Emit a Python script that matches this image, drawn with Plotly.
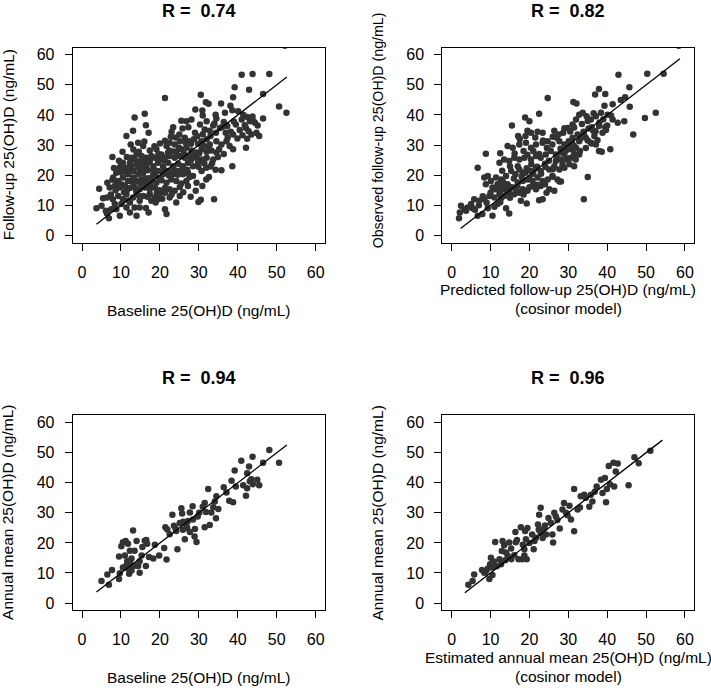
import plotly.graph_objects as go

# ---------------- data (ng/mL) ----------------
titles = ["R =  0.74", "R =  0.82", "R =  0.94", "R =  0.96"]
x_titles = [["Baseline 25(OH)D (ng/mL)"],
            ["Predicted follow-up 25(OH)D (ng/mL)", "(cosinor model)"],
            ["Baseline 25(OH)D (ng/mL)"],
            ["Estimated annual mean 25(OH)D (ng/mL)", "(cosinor model)"]]
y_titles = ["Follow-up 25(OH)D (ng/mL)", "Observed follow-up 25(OH)D (ng/mL)",
            "Annual mean 25(OH)D (ng/mL)", "Annual mean 25(OH)D (ng/mL)"]
tick_vals = [0, 10, 20, 30, 40, 50, 60]

# panel 1: baseline (x) vs follow-up (y)
baseline_followup = [
    (21.3,45.6),(30.5,46.7),(41.0,53.4),(43.8,53.6),(48.1,53.6),(39.2,49.2),(42.9,48.4),(46.5,47.0),(38.8,45.9),
    (31.8,44.2),(32.5,43.7),(35.7,43.8),(52.1,63.0),(50.6,42.8),(52.5,40.7),(38.6,23.0),(42.1,29.1),(33.9,12.0),
    (29.1,41.8),(30.9,41.5),(31.0,39.8),(34.3,40.1),(34.5,38.8),(36.7,40.7),(38.1,43.1),(38.6,41.6),(40.1,41.2),
    (41.4,40.1),(41.0,38.5),(42.4,39.3),(43.1,37.9),(43.8,39.5),(44.4,37.4),(46.5,38.8),(45.1,36.5),(45.5,33.0),
    (42.1,35.7),(39.5,36.8),(37.3,36.3),(36.4,37.7),(35.4,35.7),(34.4,34.1),(32.0,37.9),(31.5,35.2),(30.3,36.8),
    (28.1,38.5),(26.8,37.9),(25.5,38.1),(25.8,35.5),(27.3,35.9),(29.0,34.1),(23.4,35.9),(23.0,34.4),(16.4,36.6),
    (13.5,39.2),(16.1,40.4),(13.1,34.8),(17.1,34.1),(32.8,34.8),(33.7,36.5),(38.8,33.5),(39.9,32.2),(41.2,33.3),
    (42.4,32.1),(43.5,33.5),(44.8,34.1),(38.2,34.4),(36.9,34.1),
    (11.4,33.0),(7.8,26.0),(10.4,27.8),(12.5,30.2),(14.4,30.8),(15.7,29.7),(17.4,28.2),(19.1,28.6),(20.4,26.9),
    (21.7,29.7),(22.5,30.8),(23.8,30.2),(25.1,31.3),(26.4,32.4),(27.5,31.3),(28.7,31.9),(29.8,30.4),(30.7,31.3),
    (32.0,31.9),(32.8,30.2),(34.5,31.3),(35.8,30.2),(37.1,31.3),(37.9,29.7),(22.5,28.2),(24.2,27.5),(25.5,28.6),
    (26.8,29.1),(28.1,28.2),(29.4,27.5),(30.7,28.6),(32.0,27.8),(33.2,28.2),(34.5,27.5),(34.9,26.0),(33.7,25.2),
    (32.0,25.8),(30.7,25.2),(29.4,25.8),(27.7,26.4),(26.4,25.8),(25.1,26.4),(23.8,25.8),(22.5,26.4),(21.3,25.8),
    (19.9,25.2),(18.7,25.8),(17.8,26.4),(16.5,25.8),(15.3,26.4),(14.0,26.9),(12.7,25.8),(38.8,28.6),
    (8.0,19.2),(8.8,20.8),(9.7,22.5),(10.5,24.1),(9.3,18.1),(10.5,19.2),(11.8,20.3),(13.1,21.4),(14.4,22.5),
    (15.7,23.6),(16.9,24.1),(18.3,23.0),(19.5,24.1),(20.8,23.0),(22.1,24.1),(23.4,23.0),(24.7,23.8),(25.9,23.0),
    (27.2,24.1),(28.5,23.0),(29.8,24.1),(11.8,18.1),(13.1,19.2),(14.4,20.3),(15.7,20.8),(16.9,21.6),(18.3,20.3),
    (19.5,21.4),(20.8,20.3),(22.1,21.4),(23.4,20.3),(24.7,21.4),(25.9,20.3),(27.2,20.8),(28.5,19.7),(14.0,18.1),
    (15.3,18.6),(16.5,17.5),(17.8,18.3),(19.1,17.5),(20.4,18.3),(21.7,17.5),(22.9,18.6),(24.2,18.1),(25.5,17.2),
    (26.8,18.1),(7.1,15.9),(8.4,16.4),(9.7,15.9),(11.0,16.4),(12.3,15.7),(13.5,16.1),(14.8,15.3),(16.1,15.9),
    (17.4,15.3),(18.7,15.9),(19.9,15.0),(21.3,15.7),(22.5,15.3),(23.8,14.8),(25.1,16.1),(27.2,16.4),(29.2,14.8),
    (31.9,18.6),(32.6,19.4),(34.3,21.8),(35.8,21.6),(30.7,21.4),(31.9,22.5),(29.4,17.5),(30.9,16.4),(12.3,24.1),
    (13.5,25.2),(14.8,24.6),(16.1,25.2),(17.4,24.6),(11.4,22.5),(12.7,23.0),(14.0,23.6),(15.3,21.9),(16.5,22.7),
    (4.4,15.5),(3.7,9.0),(5.0,9.8),(5.4,12.3),(6.4,12.6),(6.1,8.2),(6.9,5.7),(6.4,7.3),(7.5,8.7),(8.4,10.4),
    (7.9,12.0),(9.3,13.1),(8.8,8.7),(9.7,6.5),(10.1,10.4),(10.5,12.0),(11.4,13.7),(11.4,9.3),(12.3,7.6),
    (12.3,10.9),(13.1,12.6),(13.5,9.3),(14.0,6.5),(14.8,11.5),(14.8,9.3),(15.7,13.1),(16.4,9.1),(17.4,13.7),
    (17.8,11.5),(18.7,12.6),(19.5,12.0),(19.9,13.7),(21.3,14.2),(21.7,7.1),(21.3,8.7),(22.5,12.6),(24.2,10.9),
    (25.1,13.1),(27.9,12.8),(29.9,11.1),(30.5,11.8),(18.9,10.9),(17.1,7.6),
    (9.0,17.2),(10.2,16.9),(11.5,15.0),(12.8,17.8),(13.9,14.6),(15.0,17.3),(16.2,19.0),(17.5,16.8),(18.8,19.9),
    (19.9,18.9),(21.0,21.9),(22.3,19.9),(23.5,22.0),(24.6,20.1),(25.8,22.2),(27.0,21.8),(28.0,25.0),(29.0,26.6),
    (30.1,27.3),(31.2,29.9),(32.4,29.4),(33.4,24.0),(26.2,27.2),(24.9,29.1),(23.6,27.9),(22.1,27.5),(20.9,25.0),
    (19.6,27.0),(18.4,22.0),(17.2,19.0),(15.9,23.3),(14.7,20.5),(13.4,18.6),(12.2,21.9),(11.0,21.3),(9.9,21.0),
    (8.6,15.0),(7.4,13.6),(10.8,14.3),(12.0,11.6),(14.3,13.4),(16.8,12.8),(19.2,14.2),(20.6,12.2),(23.0,13.6),
    (26.0,14.3),(27.6,19.4),(29.9,22.8),(31.4,24.0),(33.0,22.9),(35.2,28.6),(36.4,27.0),(37.4,32.4),(39.0,37.8),
    (40.5,35.0),(41.8,36.6),(44.0,38.0),(42.8,34.6),(36.0,36.0),(34.0,37.2),(33.0,33.0),(31.0,33.6),(29.6,32.9),
    (28.0,30.4),(26.6,30.8),(25.0,33.5),(24.0,32.5),(22.8,32.8),(21.3,31.4),(20.0,30.5),(18.6,29.6),(16.0,31.2),
    (14.6,27.8),(13.2,28.5),(11.5,26.0),(10.0,23.2),(9.5,24.8),(8.2,22.4),(6.5,17.5),(7.8,18.5),
]

# panel 2: predicted follow-up (x) vs observed follow-up (y)
predicted_observed = [
    (42.9,53.4),(50.3,53.7),(54.5,53.7),(45.7,49.2),(37.9,48.6),(39.5,47.0),(36.9,46.8),(24.7,45.6),(31.3,44.3),
    (32.1,43.8),(39.3,43.1),(41.4,43.6),(43.5,45.0),(44.6,45.9),(45.8,42.7),(49.7,39.0),(52.5,40.7),(46.7,33.5),
    (40.8,28.6),(35.0,19.4),(34.0,12.0),(58.4,63.0),
    (18.9,39.2),(20.0,37.9),(15.5,36.5),(22.5,40.4),(17.1,33.0),(19.5,34.8),(20.4,34.1),(22.1,34.4),(23.4,34.1),
    (26.4,34.8),(27.0,32.4),(8.8,27.1),(12.5,27.3),(14.4,29.7),(15.7,29.1),(17.4,30.2),(19.1,30.8),(20.4,29.1),
    (21.7,30.2),(23.4,30.8),(24.7,31.3),(25.9,30.2),(27.7,31.3),(29.0,30.2),(28.7,34.1),(29.8,35.7),(31.1,36.8),
    (32.0,38.5),(32.8,40.1),(33.7,40.7),(34.7,39.6),(35.8,38.5),(37.1,39.6),(38.4,40.7),(40.1,40.1),(41.4,38.5),
    (42.7,37.4),(44.4,37.9),(39.5,35.9),(37.9,36.3),(36.4,34.8),(35.2,35.5),(33.9,34.4),(32.4,33.5),(31.1,32.4),
    (30.1,31.3),(34.5,32.4),(35.8,30.8),(37.1,30.2),(37.9,28.0),(38.6,27.8),(36.7,33.0),(38.8,34.1),(39.7,35.0),
    (32.8,31.3),(31.5,29.7),(30.7,28.6),(29.4,28.2),(28.1,27.5),(26.8,26.9),(25.5,28.0),(24.2,26.9),(22.9,25.8),
    (21.7,26.4),(20.4,25.2),(18.7,25.8),(17.4,25.2),(16.1,25.8),(14.8,24.7),(13.5,25.2),(12.3,24.1),(26.8,24.7),
    (28.1,25.2),(29.4,25.2),(30.7,25.8),(31.9,25.2),(32.8,26.9),(31.5,23.0),(30.3,23.6),(29.0,22.5),(27.7,21.9),
    (26.4,23.0),(25.1,21.9),(24.1,22.7),(22.9,21.4),(21.7,22.3),(20.4,21.4),(19.3,22.3),(18.3,20.8),(17.4,21.9),
    (16.4,20.3),(15.3,21.4),(14.0,19.7),(12.7,18.6),(11.4,19.2),(10.1,18.1),(9.3,19.7),(8.4,19.2),(6.7,22.5),
    (8.8,17.0),(10.5,15.9),(11.8,17.0),(13.1,15.9),(14.4,17.0),(15.7,15.9),(16.9,16.4),(18.3,18.1),(19.5,18.6),
    (20.8,18.1),(22.1,19.2),(23.4,18.1),(24.7,18.6),(25.9,19.7),(27.2,18.6),(28.1,17.9),(25.1,15.3),(22.9,16.4),
    (21.7,15.3),(20.8,16.4),(19.5,14.8),(18.3,15.3),(17.4,14.2),(16.1,13.7),(14.8,14.2),(13.5,13.1),(12.3,13.7),
    (11.0,12.6),(9.7,13.1),(8.4,12.0),(7.1,11.5),(5.8,12.0),(5.0,10.4),(4.1,9.3),(3.3,8.7),(2.4,9.8),(2.1,7.6),
    (1.9,5.7),(3.7,8.2),(5.4,9.0),(6.7,6.5),(7.9,7.1),(9.3,9.0),(10.5,6.5),(11.8,10.4),(12.7,12.3),(14.0,9.0),
    (14.8,7.3),(16.7,14.8),(17.8,11.5),(19.3,10.6),(22.5,11.7),(23.4,12.0),(24.4,14.2),(26.4,14.8),(27.7,17.9),
    (12.4,14.6),
    (10.0,14.2),(11.2,15.3),(12.0,16.5),(13.2,17.8),(14.0,15.0),(15.2,16.0),(16.0,18.9),(17.0,17.6),(18.0,19.6),
    (19.0,20.8),(20.0,19.0),(21.0,20.5),(22.0,22.8),(23.0,20.5),(24.0,23.8),(25.0,24.8),(26.0,22.0),(27.0,26.0),
    (28.0,28.8),(29.0,27.0),(30.0,29.5),(31.0,30.6),(32.0,29.0),(33.0,32.0),(34.0,33.6),(35.0,31.5),(36.0,35.9),
    (37.0,34.6),(38.0,37.5),(39.0,38.6),(40.0,36.5),(41.0,39.8),(22.5,27.0),(21.0,28.0),(20.5,23.6),(19.5,26.8),
    (18.5,28.0),(17.0,23.0),(16.2,27.2),(23.5,31.5),(24.5,29.0),(26.0,32.8),(27.5,33.5),(29.0,35.6),(30.5,34.5),
    (31.5,35.8),(33.5,37.0),(35.0,38.0),(36.5,40.6),(28.5,23.5),(30.0,25.5),(31.5,27.0),(33.0,28.0),(34.5,29.0),
    (36.0,30.5),(37.5,31.6),(26.0,19.5),(24.0,17.0),(22.0,16.8),(20.0,16.0),(18.5,13.6),(15.0,12.5),(12.5,11.0),
    (9.0,10.8),(8.0,13.0),(7.0,10.0),(6.0,8.5),(11.0,9.5),(13.0,21.5),(15.0,23.0),(17.5,32.0),(19.0,33.0),
    (21.5,32.5),
]

# panel 3: baseline (x) vs annual mean (y)
baseline_annual = [
    (5.0,7.3),(6.5,9.5),(6.9,6.1),(7.7,11.0),(9.5,8.0),(9.7,9.9),(10.5,11.8),(10.1,18.9),(10.5,20.2),(9.5,15.5),
    (11.2,20.6),(11.8,19.7),(12.3,17.4),(11.6,13.9),(12.1,9.7),(12.7,10.8),(13.1,24.1),(13.5,17.4),(13.8,12.5),
    (14.0,20.6),(14.4,12.3),(14.8,13.9),(14.8,10.1),(15.3,15.8),(15.5,18.6),(16.1,20.7),(16.4,12.3),(16.5,21.0),
    (16.7,19.7),(17.2,15.3),(18.3,14.8),(18.7,19.4),(19.8,15.8),(21.1,18.3),(21.7,14.5),(11.4,12.5),(11.8,11.5),
    (12.7,14.8),(11.0,15.8),(12.3,13.7),(13.1,12.3),
    (21.4,25.2),(21.9,24.5),(23.2,29.4),(22.5,22.9),(23.6,25.7),(24.2,24.0),(24.5,17.9),(25.1,26.6),(25.5,31.5),
    (25.7,29.8),(25.9,24.4),(26.4,21.2),(26.8,25.7),(27.2,27.3),(27.7,30.1),(27.7,23.6),(28.4,32.2),(28.5,27.8),
    (28.9,22.1),(29.4,20.3),(29.7,28.8),(30.1,30.0),(31.5,33.3),(31.5,25.2),(31.8,30.3),(32.4,37.9),(32.8,26.0),
    (33.2,30.1),(33.7,31.9),(34.1,33.8),(34.5,35.5),(34.4,28.2),(35.0,31.3),(36.4,38.5),(37.1,36.8),(37.8,34.0),
    (38.8,33.5),(38.4,40.7),(39.2,44.1),(39.5,38.8),(40.9,47.3),(41.4,39.2),(42.1,35.7),(42.4,43.2),(42.9,45.4),
    (43.1,40.5),(43.8,48.7),(43.5,41.2),(45.0,41.0),(45.5,39.2),(46.5,46.7),(48.1,50.9),(50.6,46.7),(42.4,38.2),
    (43.9,39.5),(24.0,24.8),(26.0,27.0),(29.0,24.6),(31.0,32.0),(27.0,25.0),
]

# panel 4: estimated annual mean (x) vs annual mean (y)
estimated_annual = [
    (4.3,6.1),(5.4,7.3),(5.8,9.5),(7.8,11.0),(8.4,10.1),(9.7,8.0),(9.3,11.5),(9.9,12.9),(10.1,15.1),(10.5,11.8),
    (10.9,13.8),(10.5,9.3),(11.2,20.3),(12.3,14.6),(12.7,12.9),(12.9,17.3),(13.1,20.6),(13.5,19.2),(14.0,16.8),
    (14.4,15.7),(14.8,20.1),(15.3,14.6),(16.1,15.9),(16.4,23.6),(16.8,21.0),(17.8,25.2),(18.1,14.6),(18.7,17.9),
    (18.9,24.0),(19.1,21.2),(18.7,15.8),(19.3,14.6),(21.1,17.9),(21.3,20.6),(21.7,21.7),(22.2,26.1),(22.5,29.4),
    (22.9,31.7),(22.4,24.4),(22.9,23.4),(23.8,25.0),(24.3,22.8),(24.9,28.3),(25.5,26.7),(25.9,22.8),(26.1,20.1),
    (26.4,30.0),(27.2,27.6),(27.8,24.8),(28.5,31.1),(28.9,33.3),(29.4,30.0),(30.3,32.4),(30.7,27.8),(31.5,37.9),
    (31.5,23.9),(32.4,31.1),(33.2,35.5),(34.1,36.0),(34.5,35.0),(35.4,32.0),(35.8,36.0),(36.2,33.8),(37.3,38.8),
    (38.4,41.0),(38.8,36.6),(39.4,41.6),(39.7,33.5),(39.9,37.9),(40.7,39.5),(40.4,45.6),(41.6,46.7),(42.2,43.8),
    (42.7,46.4),(41.8,38.8),(45.5,39.2),(47.0,48.5),(48.1,46.5),(51.1,50.7),(16.5,20.2),(15.3,18.1),(17.2,14.6),
    (18.3,19.4),(20.7,22.8),(19.5,25.0),(8.8,10.6),(11.6,12.2),(13.8,14.2),(20.0,20.0),(23.4,21.6),(24.0,25.8),
    (26.8,28.8),(29.8,29.2),(33.0,31.8),(36.8,37.0),
]

# extent of the identity (y = x) line drawn in each panel
identity_extent = [(3.7, 52.6), (2.3, 58.7), (3.7, 52.6), (3.4, 54.2)]

panels = [baseline_followup, predicted_observed, baseline_annual, estimated_annual]

# ---------------- layout geometry ----------------
W, H = 711, 688
x_domains = [(72.7 / W, 325 / W), (442.3 / W, 694.3 / W)]
y_domains = [(1 - 242.3 / H, 1 - 46.7 / H), (1 - 611 / H, 1 - 415.7 / H)]
FONT = "Liberation Sans, Arial, Helvetica, sans-serif"
PT_COLOR = "#333333"

fig = go.Figure()
annotations = []
for i, pts in enumerate(panels):
    col, row = i % 2, i // 2
    xs = [p[0] for p in pts]
    ys = [p[1] for p in pts]
    ax = "" if i == 0 else str(i + 1)
    fig.add_trace(go.Scatter(
        x=xs, y=ys, mode="markers", xaxis="x" + ax, yaxis="y" + ax,
        marker=dict(size=6.5, color=PT_COLOR, line=dict(width=0)),
        showlegend=False, hoverinfo="skip"))
    lo, hi = identity_extent[i]
    fig.add_trace(go.Scatter(
        x=[lo, hi], y=[lo, hi], mode="lines", xaxis="x" + ax, yaxis="y" + ax,
        line=dict(color="black", width=1.3), showlegend=False, hoverinfo="skip"))

    axis_common = dict(range=[-2.4, 62.4], tickvals=tick_vals, ticks="outside", ticklen=7,
                       tickwidth=1, tickcolor="black", showline=True, mirror=True,
                       linecolor="black", linewidth=1, showgrid=False, zeroline=False,
                       tickfont=dict(family=FONT, size=16, color="black"))
    fig.update_layout({
        "xaxis" + ax: dict(domain=x_domains[col], anchor="y" + ax, ticklabelstandoff=8, **axis_common),
        "yaxis" + ax: dict(domain=y_domains[row], anchor="x" + ax, ticklabelstandoff=7, **axis_common),
    })

    xc = sum(x_domains[col]) / 2
    yc = sum(y_domains[row]) / 2
    # panel title
    title_py = [10, 378][row]
    annotations.append(dict(text="<b>" + titles[i] + "</b>", x=xc, y=1 - title_py / H,
                            xref="paper", yref="paper", showarrow=False,
                            xanchor="center", yanchor="middle",
                            font=dict(family=FONT, size=18, color="black")))
    # x axis title (one or two lines)
    box_bottom = [242.3, 611][row]
    offsets = [67.7] if len(x_titles[i]) == 1 else [47.3, 66.0]
    for line, off in zip(x_titles[i], offsets):
        annotations.append(dict(text=line, x=xc, y=1 - (box_bottom + off) / H,
                                xref="paper", yref="paper", showarrow=False,
                                xanchor="center", yanchor="middle",
                                font=dict(family=FONT, size=15.5, color="black")))
    # y axis title
    box_left = [72.7, 442.3][col]
    if i == 1:
        ty, tsize = 1 - 130 / H, 14.2
    else:
        ty, tsize = yc, 15.5
    annotations.append(dict(text=y_titles[i], x=(box_left - 64.6) / W, y=ty,
                            xref="paper", yref="paper", showarrow=False, textangle=-90,
                            xanchor="center", yanchor="middle",
                            font=dict(family=FONT, size=tsize, color="black")))

fig.update_layout(width=W, height=H, margin=dict(l=0, r=0, t=0, b=0),
                  paper_bgcolor="white", plot_bgcolor="white",
                  annotations=annotations, font=dict(family=FONT))

fig.write_html("out.html", config={"displayModeBar": False},
               post_script="document.body.style.margin='0';document.body.style.overflow='hidden';")
